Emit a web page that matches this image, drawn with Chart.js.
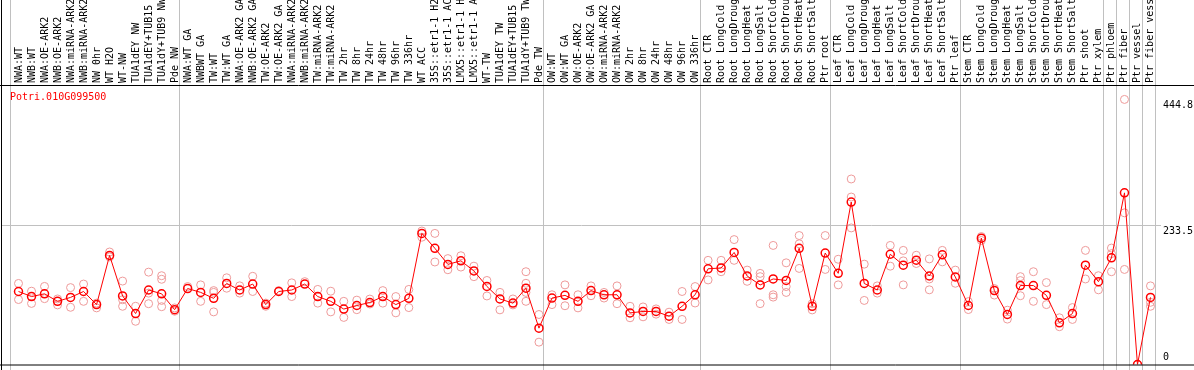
<!DOCTYPE html>
<html lang="en">
<head>
    <meta charset="UTF-8">
    <title>Potri.010G099500 expression</title>
    <script src="https://cdn.jsdelivr.net/npm/chart.js"></script>
    <style>
        body { margin: 0; background: #fff; }
        canvas { display: block; }
    </style>
</head>
<body>
    <canvas id="exprChart" width="1194" height="370"></canvas>

    <script>
        const geneName = 'Potri.010G099500';

        const categories = [
            'NWA:WT', 'NWB:WT', 'NWA:OE-ARK2', 'NWB:OE-ARK2', 'NWA:miRNA-ARK2', 'NWB:miRNA-ARK2', 'NW 0hr', 'WT H2O', 'WT-NW',
            'TUA1dEY NW', 'TUA1dEY+TUB15 NW', 'TUA1dY+TUB9 NW', 'Pde NW',
            'NWA:WT GA', 'NWBWT GA', 'TW:WT', 'TW:WT GA', 'NWA:OE-ARK2 GA', 'NWB:OE-ARK2 GA', 'TW:OE-ARK2', 'TW:OE-ARK2 GA',
            'NWA:miRNA-ARK2 GA', 'NWB:miRNA-ARK2 GA', 'TW:miRNA-ARK2', 'TW:miRNA-ARK2 GA', 'TW 2hr', 'TW 8hr', 'TW 24hr', 'TW 48hr',
            'TW 96hr', 'TW 336hr', 'WT ACC', '35S::etr1-1 H2O', '35S::etr1-1 ACC', 'LMX5::etr1-1 H2O', 'LMX5::etr1-1 ACC', 'WT-TW',
            'TUA1dEY TW', 'TUA1dEY+TUB15 TW', 'TUA1dY+TUB9 TW', 'Pde TW',
            'OW:WT', 'OW:WT GA', 'OW:OE-ARK2', 'OW:OE-ARK2 GA', 'OW:miRNA-ARK2', 'OW:miRNA-ARK2 GA', 'OW 2hr', 'OW 8hr', 'OW 24hr',
            'OW 48hr', 'OW 96hr', 'OW 336hr',
            'Root CTR', 'Root LongCold', 'Root LongDrought', 'Root LongHeat', 'Root LongSalt', 'Root ShortCold', 'Root ShortDrought',
            'Root ShortHeat', 'Root ShortSalt', 'Ptr root',
            'Leaf CTR', 'Leaf LongCold', 'Leaf LongDrought', 'Leaf LongHeat', 'Leaf LongSalt', 'Leaf ShortCold', 'Leaf ShortDrought',
            'Leaf ShortHeat', 'Leaf ShortSalt', 'Ptr leaf',
            'Stem CTR', 'Stem LongCold', 'Stem LongDrought', 'Stem LongHeat', 'Stem LongSalt', 'Stem ShortCold', 'Stem ShortDrought',
            'Stem ShortHeat', 'Stem ShortSalt', 'Ptr shoot', 'Ptr xylem',
            'Ptr phloem', 'Ptr fiber', 'Ptr vessel', 'Ptr fiber vessel'
        ];

        // index where each group starts (last entry = end)
        const groupStarts = [0, 13, 41, 53, 63, 73, 84, 85, 86, 87, 88];

        const meanValues = [
            122.5, 114, 118.6, 106, 112.6, 122.5, 100.5, 183, 115, 85.5,
            125, 118.6, 92, 127.5, 121, 111, 136, 125, 135, 100.5,
            122.5, 125, 135, 114, 106, 93, 99, 104, 114, 100.5,
            111, 220, 195, 168, 174, 157, 131, 110, 103, 128,
            61, 111.5, 116, 106, 124, 117, 117, 86.6, 89, 89,
            81, 97.7, 117, 160.6, 162, 188, 148.5, 133.5, 143.5, 141,
            195, 97.7, 187, 153, 272.6, 136, 125, 185, 166.7, 175,
            148.5, 184, 147, 99, 212, 124, 84, 132.5, 132.5, 116,
            70, 85.5, 166.7, 139, 179, 288, 0, 112.6
        ];

        const rep1 = [
            136, 123, 131, 110, 129, 135, 103, 188.8, 140, 97.7,
            155, 149, 94.9, 130.8, 133.6, 124, 145.5, 132, 148, 103,
            124, 137, 139, 126, 123, 106, 108, 109.8, 124, 114,
            126, 224, 220, 177.7, 182.5, 165, 141, 121, 110, 155.7,
            83.9, 117, 133.6, 117, 131.9, 120.9, 131.9, 97.7, 96.6, 93.3,
            87.8, 122.5, 130.8, 174.8, 174.8, 209.6, 158.4, 152.9, 199.8, 170.6,
            216.4, 102.1, 216.4, 176.6, 311.3, 168.4, 131.9, 199.8, 191.5, 183.3,
            177.2, 191.5, 158.4, 105.5, 214.7, 127.5, 91.1, 147.4, 155.7, 137.5,
            78.4, 95.5, 191.5, 149, 195.4, 444.8, 0, 131.9
        ];

        const rep2 = [
            109, 102.5, 110.5, 100, 96, 106, 95, 180.5, 108.7, 72.5,
            119.8, 143, 89.4, null, 106, 121, 128, 119.8, 122.5, 97.7,
            null, 114, null, 103, 88.3, 79, 92, 101.5, 103, 86.7,
            95.5, 213.6, 172, 159, 163.5, 147.4, 115, 91.7, 100, 136.3,
            37.5, 100.5, 98.6, 95, 115.4, 111.5, 102, 78.4, 80, 84.5,
            75.6, 75.6, 103.2, 141.9, 155.7, 174.8, 139.6, 147.4, 117, 130.8,
            202.5, 91.6, 159.5, 133.6, 281, 107.5, 119.8, 165, 173.9, 169.5,
            143.5, 172.2, 136.3, 92.2, 208.1, 116.5, 76.2, 140.8, 106, 100.5,
            63.4, 75.6, 143.5, 125.3, 186, 254.5, null, 104.3
        ];

        const rep3 = [
            null, null, null, null, null, null, null, null, 97.7, null,
            102, 107.5, null, null, null, 88.3, null, null, null, null,
            null, null, null, null, null, null, null, null, null, null,
            null, null, null, null, null, null, null, null, null, 120.9,
            null, null, null, null, null, null, null, null, null, null,
            null, null, null, null, null, null, null, 102.1, 113.1, 120.9,
            161.2, null, null, null, 229.2, null, null, null, 133.6, null,
            125.3, null, null, null, null, null, null, 115.4, null, null,
            null, null, null, null, 155.7, 159.5, null, 97.7
        ];

        const rep4 = [
            null, null, null, null, null, null, null, null, null, null,
            null, 97, null, null, null, null, null, null, null, null,
            null, null, null, null, null, null, null, null, null, null,
            null, null, null, null, null, null, null, null, null, 106,
            null, null, null, null, null, null, null, null, null, null,
            null, null, null, null, null, null, null, null, null, null,
            null, null, null, null, null, null, null, null, null, null,
            null, null, null, null, null, null, null, null, null, null,
            null, null, null, null, null, null, null, null
        ];

        const yTicks = [0, 233.5, 444.8];

        const FONT = '10px "DejaVu Sans Mono", monospace';

        // Frame, group separators, rotated labels and right-hand values
        const framePlugin = {
            id: 'frame',
            beforeDatasetsDraw(chart) {
                const ctx = chart.ctx;
                const xs = chart.scales.x, ys = chart.scales.y;
                const half = (xs.getPixelForValue(1) - xs.getPixelForValue(0)) / 2;
                ctx.save();
                ctx.strokeStyle = '#c0c0c0';
                ctx.lineWidth = 1;
                groupStarts.forEach(i => {
                    const px = Math.floor(xs.getPixelForValue(i) - half - 1.5) + 0.5;
                    ctx.beginPath();
                    ctx.moveTo(px, 0);
                    ctx.lineTo(px, chart.height);
                    ctx.stroke();
                });
                const gy = Math.floor(ys.getPixelForValue(yTicks[1])) + 0.5;
                ctx.beginPath();
                ctx.moveTo(2, gy);
                ctx.lineTo(1161, gy);
                ctx.stroke();
                ctx.restore();
            },
            afterDraw(chart) {
                const ctx = chart.ctx;
                const xs = chart.scales.x, ys = chart.scales.y;
                const area = chart.chartArea;
                ctx.save();

                // black frame lines
                ctx.strokeStyle = '#000';
                ctx.lineWidth = 1;
                ctx.beginPath();
                ctx.moveTo(1.5, 0);
                ctx.lineTo(1.5, chart.height);
                ctx.moveTo(0, area.top + 0.5);
                ctx.lineTo(chart.width, area.top + 0.5);
                ctx.moveTo(0, area.bottom + 0.5);
                ctx.lineTo(chart.width, area.bottom + 0.5);
                ctx.stroke();

                // rotated category labels
                ctx.fillStyle = '#000';
                ctx.font = FONT;
                ctx.textAlign = 'left';
                ctx.textBaseline = 'middle';
                categories.forEach((label, i) => {
                    ctx.save();
                    ctx.translate(Math.round(xs.getPixelForValue(i)) + 0.5, area.top - 2);
                    ctx.rotate(-Math.PI / 2);
                    ctx.fillText(label, 0, 0);
                    ctx.restore();
                });

                // value labels on the right
                yTicks.forEach(v => {
                    const py = ys.getPixelForValue(v);
                    ctx.fillText(String(v), 1163, v === 0 ? py - 7 : py + 6);
                });

                // gene name
                ctx.fillStyle = '#ff0000';
                ctx.fillText(geneName, 10, 97);
                ctx.restore();
            }
        };

        const repStyle = {
            showLine: false,
            pointRadius: 4,
            pointHoverRadius: 4,
            pointBorderWidth: 1,
            pointBorderColor: '#ee9a9a',
            pointBackgroundColor: 'rgba(0,0,0,0)',
            borderColor: '#ee9a9a'
        };

        const ctx = document.getElementById('exprChart').getContext('2d');
        new Chart(ctx, {
            type: 'line',
            data: {
                labels: categories,
                datasets: [
                    {
                        label: 'mean',
                        data: meanValues,
                        borderColor: '#ff0000',
                        borderWidth: 1,
                        pointRadius: 4,
                        pointHoverRadius: 4,
                        pointBorderWidth: 1.5,
                        pointBorderColor: '#ff0000',
                        pointBackgroundColor: 'rgba(0,0,0,0)',
                        tension: 0
                    },
                    Object.assign({ label: 'rep1', data: rep1 }, repStyle),
                    Object.assign({ label: 'rep2', data: rep2 }, repStyle),
                    Object.assign({ label: 'rep3', data: rep3 }, repStyle),
                    Object.assign({ label: 'rep4', data: rep4 }, repStyle)
                ]
            },
            options: {
                responsive: false,
                animation: false,
                devicePixelRatio: 1,
                layout: { padding: { left: 12, right: 37, top: 85, bottom: 1 } },
                plugins: {
                    legend: { display: false },
                    tooltip: { enabled: false }
                },
                scales: {
                    x: { type: 'category', offset: true, display: false },
                    y: { min: 0, max: 469, display: false }
                }
            },
            plugins: [framePlugin]
        });
    </script>
</body>
</html>
